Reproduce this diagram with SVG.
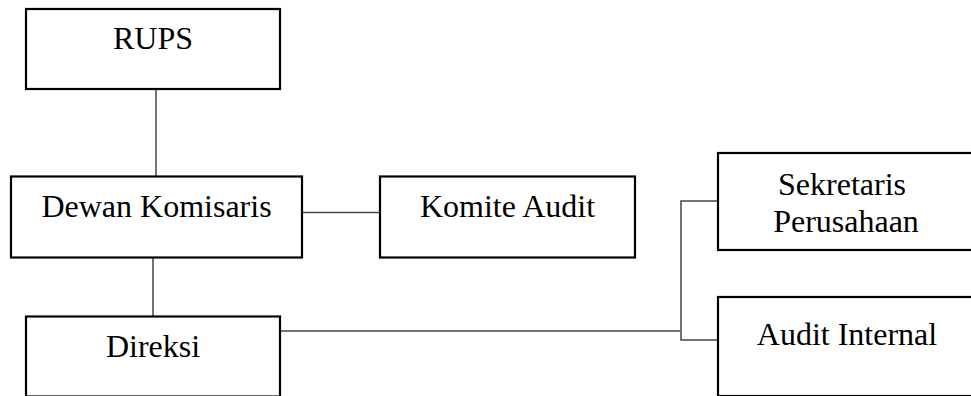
<svg xmlns="http://www.w3.org/2000/svg" width="971" height="396" viewBox="0 0 971 396">
<style>
.box{fill:#fff;stroke:#000;stroke-width:2.2}
.t{font-family:"Liberation Serif","Times New Roman",serif;font-size:32px;fill:#000;text-anchor:middle}
.c{fill:none;stroke:#444;stroke-width:1.5}
</style>
<rect width="971" height="396" fill="#fff"/>
<g id="connectors">
<line class="c" x1="156" y1="89" x2="156" y2="177"/>
<line class="c" x1="302" y1="212.5" x2="380" y2="212.5"/>
<line class="c" x1="153" y1="257" x2="153" y2="317"/>
<line class="c" x1="280" y1="331" x2="680" y2="331"/>
<polyline class="c" points="718,201 681,201 681,340 718,340"/>
</g>
<g id="rups">
<rect class="box" x="26" y="9" width="254" height="80"/>
<text class="t" x="153" y="49">RUPS</text>
</g>
<g id="dewan-komisaris">
<rect class="box" x="11" y="176.5" width="291" height="81"/>
<text class="t" x="156.5" y="217">Dewan Komisaris</text>
</g>
<g id="komite-audit">
<rect class="box" x="380" y="176.5" width="255" height="81"/>
<text class="t" x="507.5" y="217">Komite Audit</text>
</g>
<g id="direksi">
<rect class="box" x="26" y="316.5" width="254" height="80"/>
<text class="t" x="153" y="357">Direksi</text>
</g>
<g id="sekretaris-perusahaan">
<rect class="box" x="718" y="153" width="260" height="97"/>
<text class="t" x="842" y="195">Sekretaris</text>
<text class="t" x="846" y="232">Perusahaan</text>
</g>
<g id="audit-internal">
<rect class="box" x="718" y="297" width="260" height="99"/>
<text class="t" x="847" y="345">Audit Internal</text>
</g>
</svg>
